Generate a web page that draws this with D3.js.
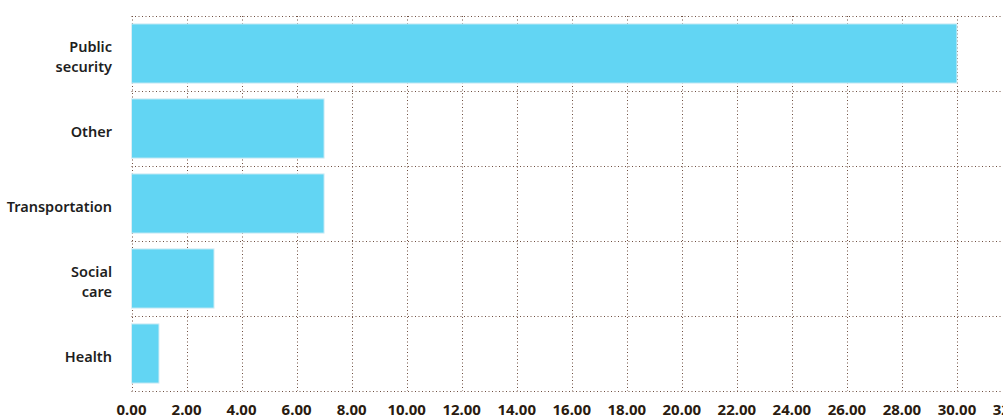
<!DOCTYPE html>
<html>
<head>
<meta charset="utf-8">
<script src="https://cdn.jsdelivr.net/npm/d3@7"></script>
<style>
  body { margin: 0; background: #fff; }
  svg { display: block; }
</style>
</head>
<body>
<div id="chart"></div>
<script>
const categories = ["Public security", "Other", "Transportation", "Social care", "Health"];
const values = [30, 7, 7, 3, 1];
const tickValues = [0, 2, 4, 6, 8, 10, 12, 14, 16, 18, 20, 22, 24, 26, 28, 30, 32];

const width = 1003;
const height = 417;
const margin = { top: 16, right: -9, bottom: 26, left: 131.5 };

const svg = d3.select("#chart")
    .append("svg")
    .attr("width", width)
    .attr("height", height)
    .style("font-family", "'Noto Sans', sans-serif");

const x = d3.scaleLinear()
    .domain([0, 32])
    .range([margin.left, width - margin.right]);

const y = d3.scaleBand()
    .domain(categories)
    .range([margin.top, height - margin.bottom])
    .paddingInner(0.21)
    .paddingOuter(0.105);

const gridColor = "#6e4e40";
const step = y.step();
const plotTop = margin.top;
const plotBottom = height - margin.bottom;

// vertical grid
svg.append("g")
    .selectAll("line")
    .data(tickValues)
    .join("line")
    .attr("x1", d => Math.round(x(d)) + 0.5)
    .attr("x2", d => Math.round(x(d)) + 0.5)
    .attr("y1", plotTop)
    .attr("y2", plotBottom)
    .attr("stroke", gridColor)
    .attr("stroke-width", 1)
    .attr("stroke-dasharray", "1,2.5");

// horizontal grid at band boundaries
const bounds = categories.map(c => y(c) - y.paddingInner() * step / 2);
bounds.push(plotBottom);
svg.append("g")
    .selectAll("line")
    .data(bounds)
    .join("line")
    .attr("x1", margin.left)
    .attr("x2", width)
    .attr("y1", d => Math.round(d) + 0.5)
    .attr("y2", d => Math.round(d) + 0.5)
    .attr("stroke", gridColor)
    .attr("stroke-width", 1)
    .attr("stroke-dasharray", "1,2.5");

// bars
svg.append("g")
    .selectAll("rect")
    .data(categories)
    .join("rect")
    .attr("x", x(0))
    .attr("y", d => y(d))
    .attr("width", (d, i) => x(values[i]) - x(0))
    .attr("height", y.bandwidth())
    .attr("fill", "#62d5f3")
    .attr("stroke", "#d8eef5")
    .attr("stroke-width", 1);

// category labels
const labels = svg.append("g")
    .selectAll("text")
    .data(categories)
    .join("text")
    .attr("text-anchor", "end")
    .attr("font-size", 14.5)
    .attr("font-weight", 600)
    .attr("fill", "#1e1e1e");

labels.each(function(d) {
    const words = d.split(" ");
    const t = d3.select(this);
    const cy = y(d) + y.bandwidth() / 2 + 3;
    const lineH = 20;
    const start = cy - (words.length - 1) * lineH / 2;
    words.forEach((w, i) => {
        t.append("tspan")
            .attr("x", 112)
            .attr("y", start + i * lineH)
            .attr("dy", "0.35em")
            .text(w);
    });
});

// x axis tick labels
svg.append("g")
    .selectAll("text")
    .data(tickValues)
    .join("text")
    .attr("x", d => x(d))
    .attr("y", 410)
    .attr("dy", "0.35em")
    .attr("text-anchor", "middle")
    .attr("font-size", 15)
    .attr("font-weight", 700)
    .attr("fill", "#2a1b10")
    .text(d => d3.format(".2f")(d));
</script>
</body>
</html>
